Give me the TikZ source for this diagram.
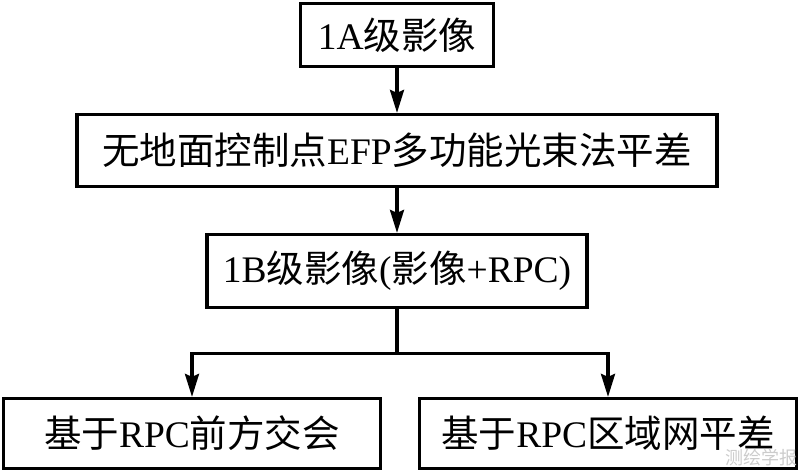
\documentclass[tikz,border=0pt]{standalone}
\usepackage{fontspec}
\setmainfont{Liberation Serif}
\newfontfamily\cjk{Noto Sans CJK SC}
\usetikzlibrary{arrows.meta}
\begin{document}
\begin{tikzpicture}[x=1pt,y=-1pt,
  box/.style={draw,line width=3.2pt,inner sep=0pt,font=\fontsize{37.5}{42}\selectfont},
  arr/.style={line width=3.2pt,-{Stealth[length=23pt,width=14pt,inset=3pt]}},
  con/.style={line width=3.2pt}]
\useasboundingbox (0,0) rectangle (800,472);
\node[box,minimum width=193pt,minimum height=63pt] (b1) at (397,35) {1A{\cjk 级影像}};
\node[box,minimum width=640pt,minimum height=72pt] (b2) at (397,150.5) {{\cjk 无地面控制点}EFP{\cjk 多功能光束法平差}};
\node[box,minimum width=380pt,minimum height=73pt] (b3) at (397,271) {1B{\cjk 级影像}({\cjk 影像}+RPC)};
\node[box,minimum width=377pt,minimum height=70pt] (b4) at (192,433.5) {{\cjk 基于}RPC{\cjk 前方交会}};
\node[box,minimum width=377pt,minimum height=70pt] (b5) at (608,433.5) {{\cjk 基于}RPC{\cjk 区域网平差}};
\node[font=\cjk\fontsize{18}{20}\selectfont,text=gray!40,anchor=south east,inner sep=0pt] (wm) at (798,466) {测绘学报};
\draw[arr] (b1) -- (b2);
\draw[arr] (b2) -- (b3);
\draw[con] (b3.south) -- ++(0,44) coordinate (j);
\draw[arr] (j) -| (b4.north);
\draw[arr] (j) -| (b5.north);
\end{tikzpicture}
\end{document}
